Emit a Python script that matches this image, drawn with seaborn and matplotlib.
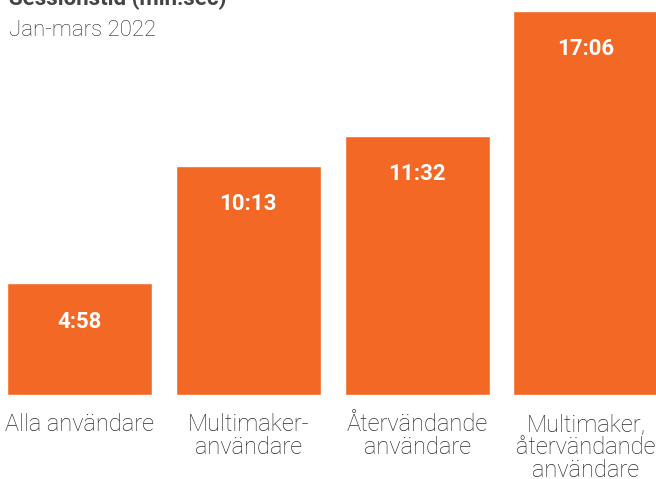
import matplotlib
matplotlib.use('Agg')
import matplotlib.pyplot as plt
import seaborn as sns
import pandas as pd

# session length per user group, Jan-mars 2022
categories = ['Alla användare', 'Multimaker-\nanvändare', 'Återvändande\nanvändare',
              'Multimaker,\nåtervändande\nanvändare']
seconds = [4 * 60 + 58, 10 * 60 + 13, 11 * 60 + 32, 17 * 60 + 6]
labels = ['4:58', '10:13', '11:32', '17:06']

ORANGE = '#F36824'
TEXT = '#2b2b2b'

sns.set_style('white')
plt.rcParams['font.family'] = ['Roboto', 'DejaVu Sans']

df = pd.DataFrame({'grupp': categories, 'sek': seconds})

fig = plt.figure(figsize=(6.56, 4.79), dpi=100)
W, H = 656, 479
ax = fig.add_axes([-4.8 / W, 84 / H, 675 / W, 384 / H])
sns.barplot(data=df, x='grupp', y='sek', color=ORANGE, saturation=1, width=0.86, ax=ax)
ax.set_xlim(-0.5, 3.5)
ax.set_ylim(0, max(seconds))
sns.despine(ax=ax, left=True, bottom=True, top=True, right=True)
ax.set_xlabel('')
ax.set_ylabel('')
ax.set_yticks([])
ax.tick_params(axis='x', length=0, pad=13)
for t in ax.get_xticklabels():
    t.set_fontsize(17)
    t.set_fontweight('light')
    t.set_color(TEXT)
    t.set_linespacing(1.0)
    t.set_verticalalignment('top')

for i, (v, lab) in enumerate(zip(seconds, labels)):
    ax.annotate(lab, (i, v), xytext=(0, -27.5), textcoords='offset points',
                ha='center', va='center', color='white', fontsize=16, fontweight='bold')

fig.text(9 / W, 1 - 5 / H, 'Sessionstid (min:sec)', fontsize=16, fontweight='bold',
         color='#444444', va='baseline', ha='left')
fig.text(9 / W, 1 - 30 / H, 'Jan-mars 2022', fontsize=16, fontweight='light',
         color=TEXT, va='center', ha='left')

fig.savefig('out.png', dpi=100)
